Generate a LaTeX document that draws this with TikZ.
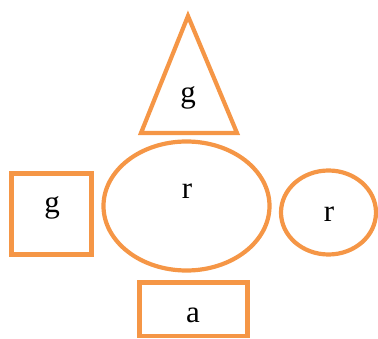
\documentclass[tikz,border=0pt]{standalone}
\usepackage{fontspec}
\setmainfont{Liberation Serif}
\usepackage{tikz}
\definecolor{outline}{RGB}{245,150,70}

\begin{document}
\begin{tikzpicture}[x=1pt, y=-1pt,
  shp/.style={draw=outline, line width=4.2pt},
  lbl/.style={anchor=base, inner sep=0pt, font=\fontsize{31}{36}\selectfont}]
\useasboundingbox (0,0) rectangle (378,339);
\draw[shp] (188,16) -- (237,133) -- (141,133) -- cycle;
\draw[shp] (11.5,173.5) rectangle (91.5,254.5);
\draw[shp] (186.5,206) ellipse [x radius=83, y radius=64.5];
\draw[shp] (328.5,212.5) ellipse [x radius=47.5, y radius=42];
\draw[shp] (139.5,282.5) rectangle (247.5,336);

\node[lbl] (top) at (188,103) {g};
\node[lbl] (left) at (52,213) {g};
\node[lbl] (mid) at (187,199) {r};
\node[lbl] (right) at (329,222) {r};
\node[lbl] (bottom) at (193,323) {a};
\end{tikzpicture}
\end{document}
